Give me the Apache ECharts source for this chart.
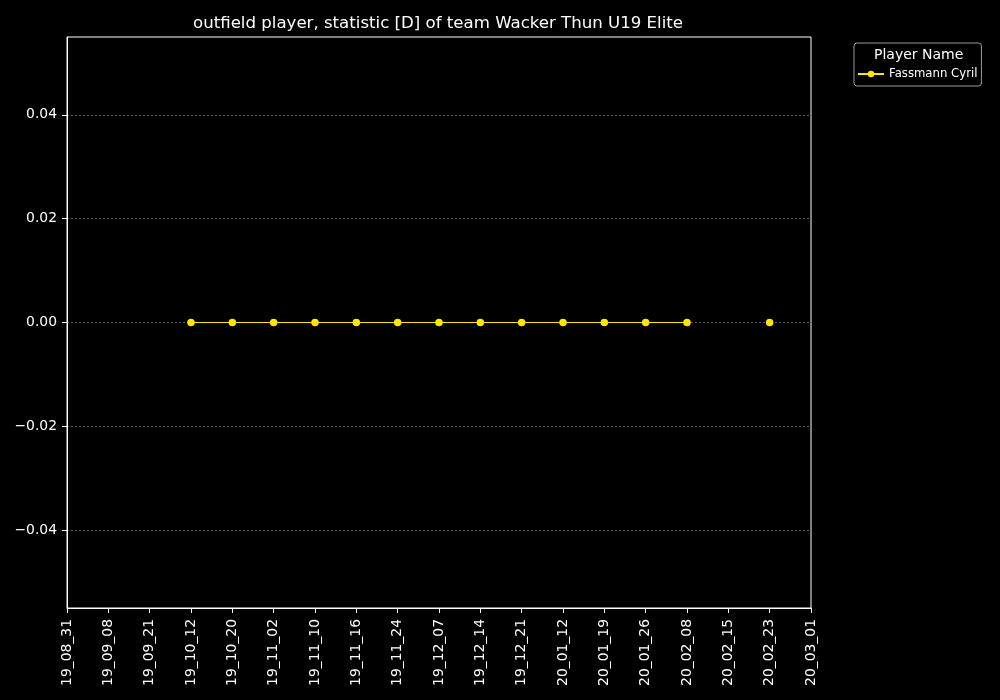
<!DOCTYPE html>
<html>
<head>
<meta charset="utf-8">
<script src="https://cdn.jsdelivr.net/npm/echarts@6/dist/echarts.min.js"></script>
<style>
  html, body { margin: 0; padding: 0; background: #000; }
  #chart { width: 1000px; height: 700px; }
</style>
</head>
<body>
<div id="chart"></div>
<script>
// dates of the matches (x axis)
const datas = ['19_08_31', '19_09_08', '19_09_21', '19_10_12', '19_10_20', '19_11_02',
  '19_11_10', '19_11_16', '19_11_24', '19_12_07', '19_12_14', '19_12_21', '20_01_12',
  '20_01_19', '20_01_26', '20_02_08', '20_02_15', '20_02_23', '20_03_01'];

// statistic [D] per match, null = not played
const valoresCyril = [null, null, null, 0, 0, 0, 0, 0, 0, 0, 0, 0, 0, 0, 0, 0, null, 0, null];

const ticksY = [-0.04, -0.02, 0, 0.02, 0.04];

const FONTE = 'DejaVu Sans';
const AMARELO = '#ffe313';

const chart = echarts.init(document.getElementById('chart'));
chart.setOption({
  backgroundColor: '#000',
  animation: false,
  title: [
    {
      text: 'outfield player, statistic [D] of team Wacker Thun U19 Elite',
      left: 188, top: 10,
      textStyle: { color: '#fff', fontFamily: FONTE, fontSize: 16.6, fontWeight: 'normal' }
    },
    {
      text: 'Player Name',
      left: 869, top: 43,
      textStyle: { color: '#fff', fontFamily: FONTE, fontSize: 14, fontWeight: 'normal' }
    }
  ],
  legend: {
    left: 854, top: 43, width: 129,
    orient: 'vertical',
    padding: [25, 4, 6, 3],
    itemWidth: 26, itemHeight: 8, itemGap: 4,
    borderColor: '#999', borderWidth: 1, borderRadius: 3,
    backgroundColor: '#000',
    textStyle: { color: '#fff', fontFamily: FONTE, fontSize: 11.7 },
    data: ['Fassmann Cyril']
  },
  grid: {
    left: 67, right: 189, top: 37, bottom: 92,
    show: true, borderColor: '#fff', borderWidth: 1
  },
  xAxis: {
    type: 'category',
    data: datas,
    boundaryGap: false,
    axisLine: { onZero: false, lineStyle: { color: '#fff' } },
    axisTick: { alignWithLabel: true, length: 5, lineStyle: { color: '#fff' } },
    axisLabel: { rotate: 90, color: '#fff', fontFamily: FONTE, fontSize: 13.9, margin: 11, interval: 0 },
    splitLine: { show: false }
  },
  yAxis: {
    type: 'value',
    min: -0.055, max: 0.055,
    axisLine: { show: true, lineStyle: { color: '#fff' } },
    axisTick: { show: true, length: 5, lineStyle: { color: '#fff' }, customValues: ticksY },
    axisLabel: {
      color: '#fff', fontFamily: FONTE, fontSize: 13.9, margin: 10,
      customValues: ticksY,
      formatter: v => (v < 0 ? '\u2212' : '') + Math.abs(v).toFixed(2)
    },
    splitLine: { show: true, lineStyle: { color: '#888', type: [2, 2], width: 0.7 } }
  },
  series: [{
    name: 'Fassmann Cyril',
    type: 'line',
    data: valoresCyril,
    connectNulls: false,
    symbol: 'circle',
    symbolSize: 7.5,
    showAllSymbol: true,
    itemStyle: { color: AMARELO },
    lineStyle: { color: AMARELO, width: 1.2 }
  }]
});
</script>
</body>
</html>
